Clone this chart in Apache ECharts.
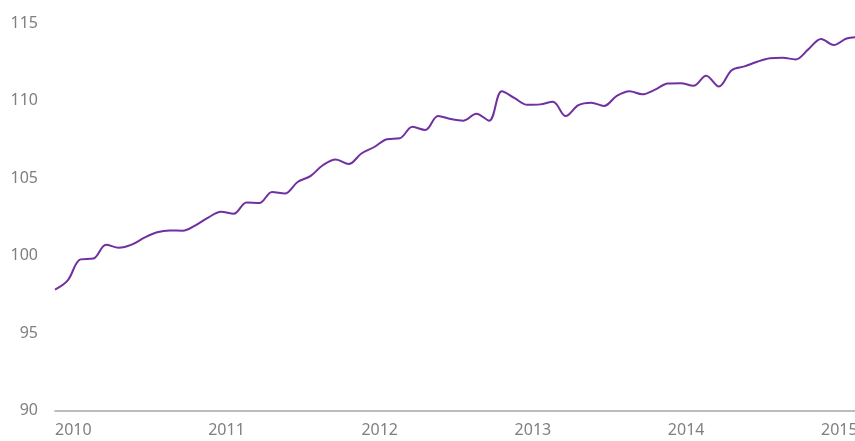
<!DOCTYPE html>
<html>
<head>
<meta charset="utf-8">
<script src="https://cdn.jsdelivr.net/npm/echarts@6/dist/echarts.min.js"></script>
<style>
html,body{margin:0;padding:0;background:#fff;}
#chart{width:855px;height:441px;}
</style>
</head>
<body>
<div id="chart"></div>
<script>
// Monthly index values, Jan 2010 onward
const startYear = 2010;
const yearTicks = ['2010', '2011', '2012', '2013', '2014', '2015'];
const yTicks = [90, 95, 100, 105, 110, 115];
const values = [
  97.8, 98.4, 99.75, 99.8, 100.7, 100.5, 100.7, 101.15, 101.5, 101.62, 101.6, 101.95,
  102.45, 102.82, 102.7, 103.42, 103.38, 104.1, 104.0, 104.74, 105.12, 105.84, 106.2, 105.9,
  106.58, 107.0, 107.5, 107.56, 108.3, 108.1, 109.0, 108.8, 108.7, 109.15, 108.7, 110.6,
  110.15, 109.72, 109.75, 109.92, 109.0, 109.7, 109.86, 109.65, 110.3, 110.6, 110.4, 110.7,
  111.1, 111.12, 110.95, 111.6, 110.9, 111.95, 112.2, 112.5, 112.72, 112.76, 112.65, 113.3,
  113.97, 113.58, 114.0, 114.1
];

const seriesData = values.map((v, i) => [i, v]);

const chart = echarts.init(document.getElementById('chart'), null, {renderer: 'canvas'});
const labelFont = {color: '#7f7f7f', fontSize: 16, fontFamily: 'Noto Sans'};
chart.setOption({
  animation: false,
  backgroundColor: '#ffffff',
  grid: {left: 55, right: 0, top: 23, bottom: 30.5, containLabel: false, outerBoundsMode: 'none'},
  xAxis: {
    type: 'value',
    min: 0,
    max: 62.66,
    interval: 12,
    axisLine: {show: true, lineStyle: {color: '#a6a6a6', width: 1.5}},
    axisTick: {show: false},
    splitLine: {show: false},
    axisLabel: Object.assign({
      align: 'left',
      margin: 12,
      showMaxLabel: false,
      hideOverlap: false,
      formatter: function (v) {
        if (Math.abs(v % 12) > 1e-6) return '';
        const idx = Math.round(v / 12);
        return yearTicks[idx] !== undefined ? yearTicks[idx] : String(startYear + idx);
      }
    }, labelFont)
  },
  yAxis: {
    type: 'value',
    min: yTicks[0],
    max: yTicks[yTicks.length - 1],
    interval: 5,
    axisLine: {show: false},
    axisTick: {show: false},
    splitLine: {show: false},
    axisLabel: Object.assign({margin: 17}, labelFont)
  },
  series: [{
    type: 'line',
    data: seriesData,
    smooth: 0.35,
    symbol: 'none',
    lineStyle: {color: '#7030a0', width: 2}
  }]
});
</script>
</body>
</html>
